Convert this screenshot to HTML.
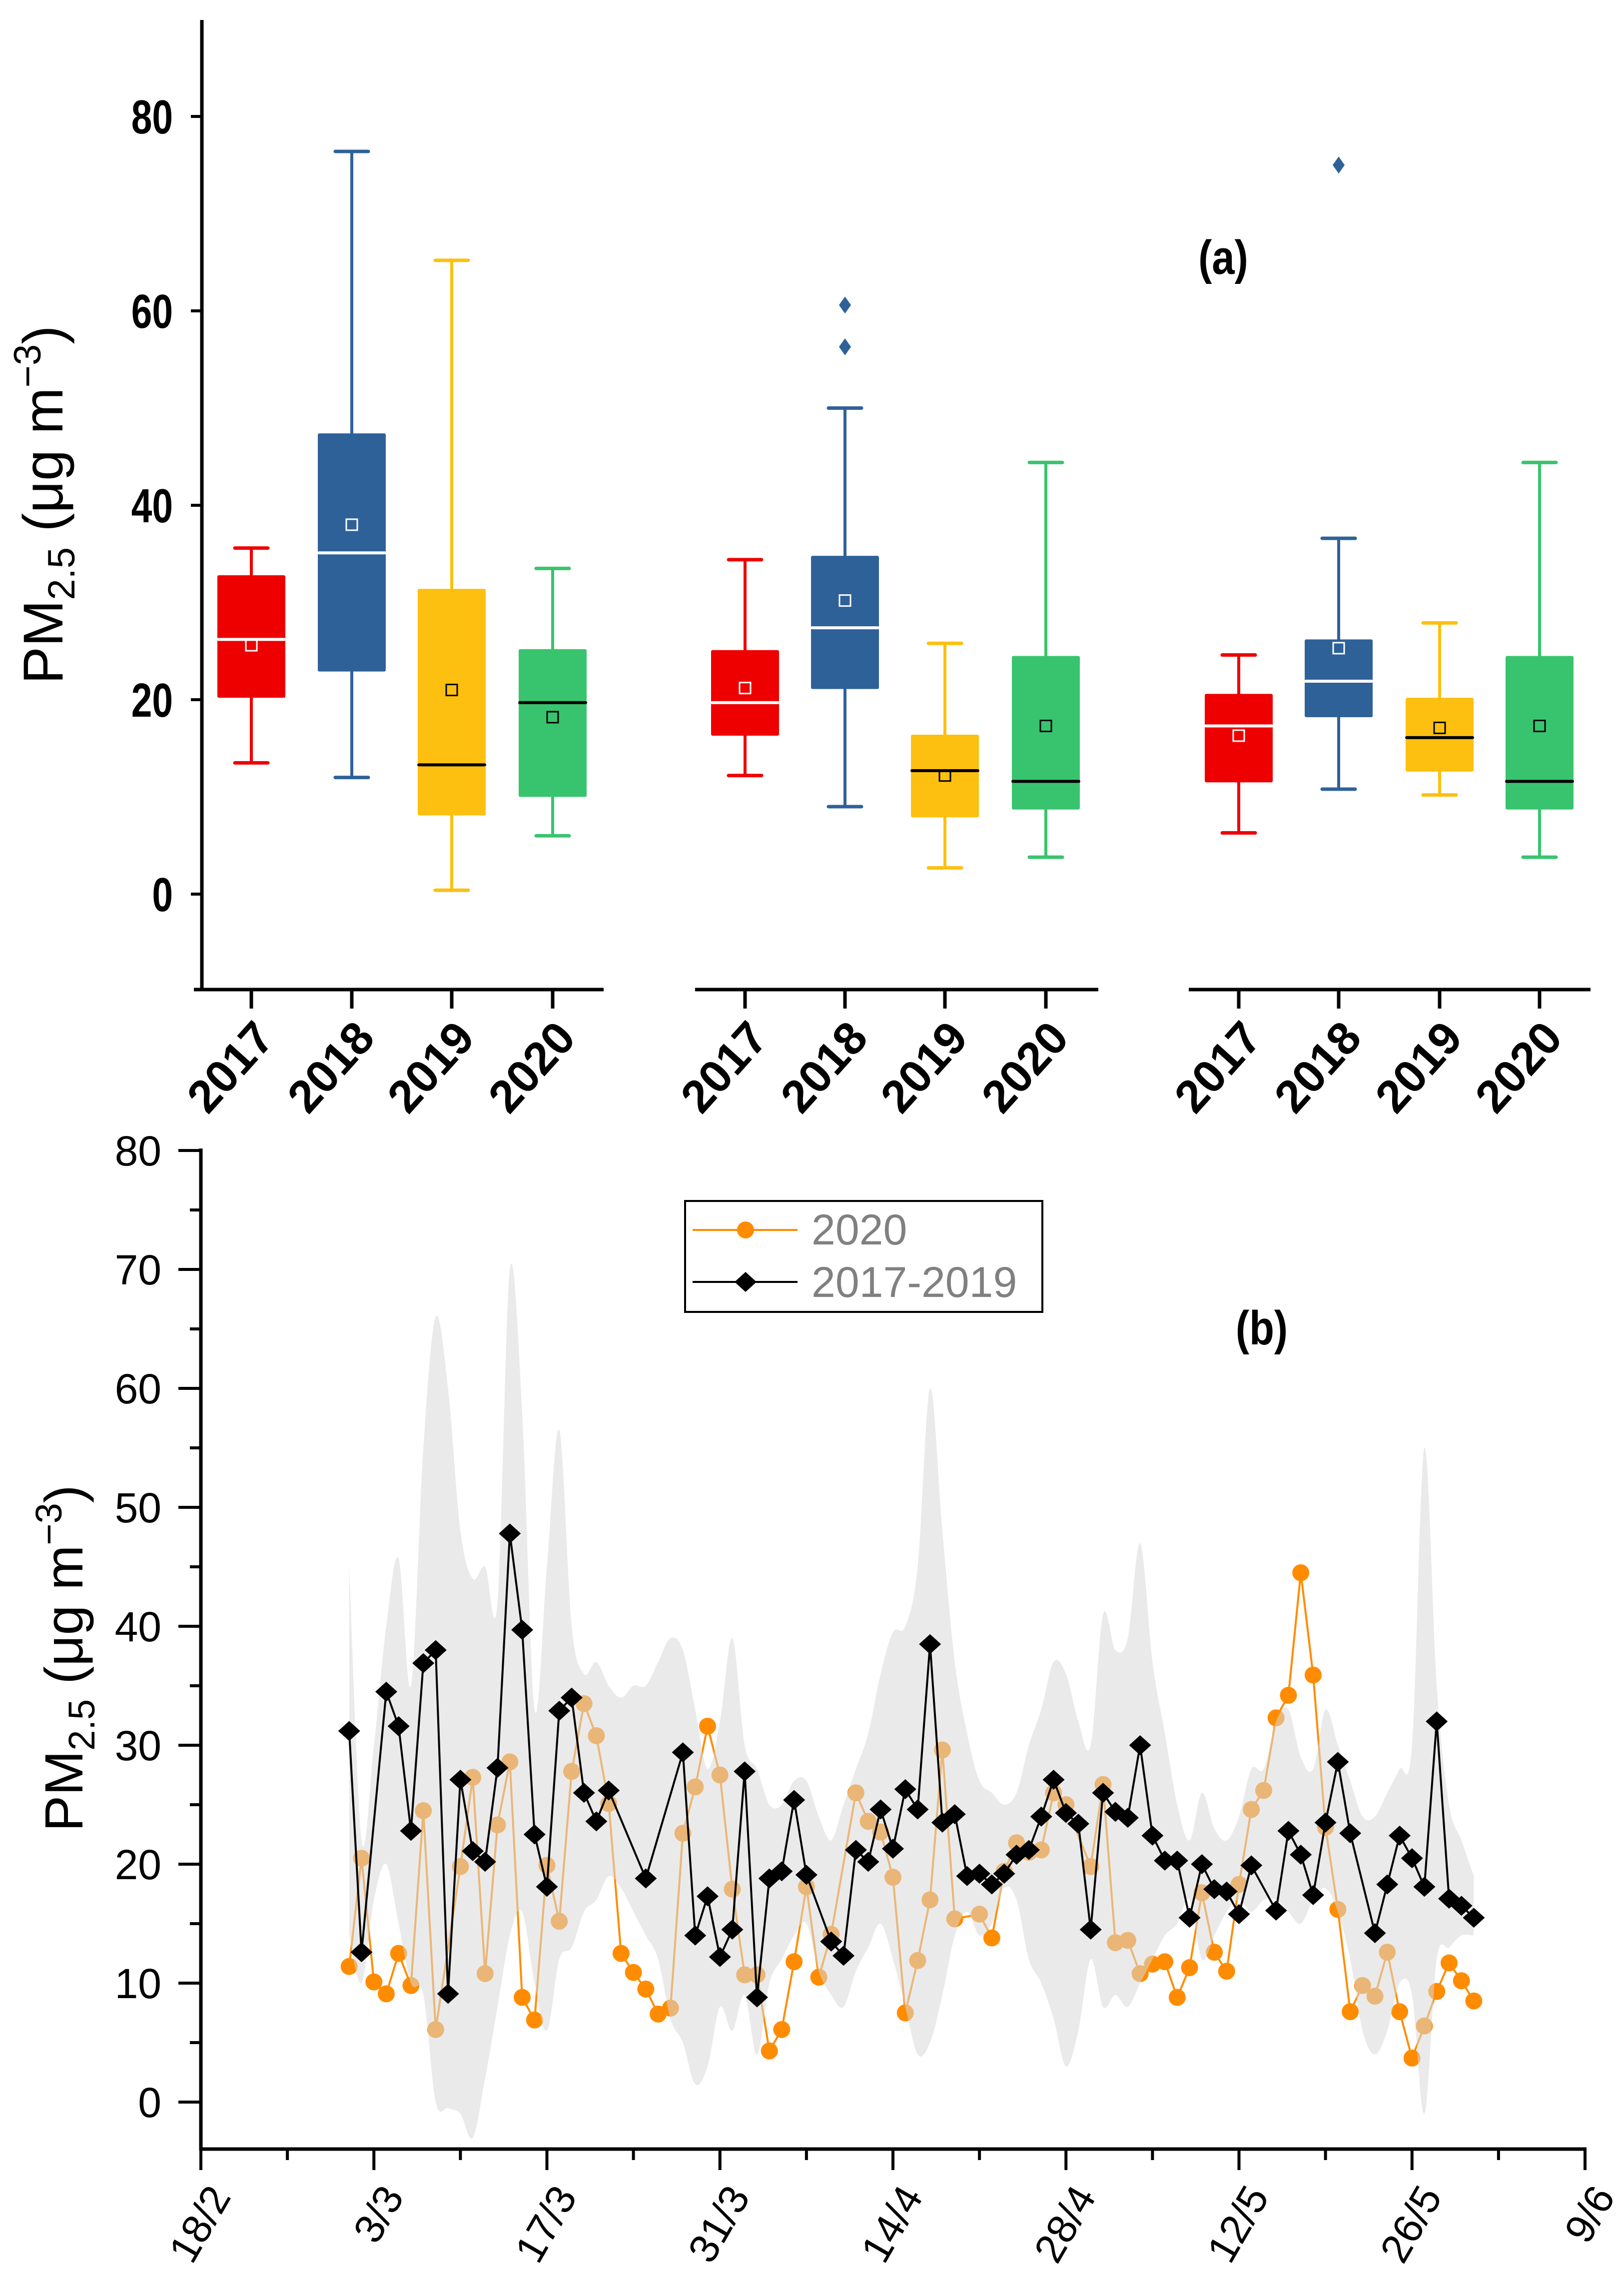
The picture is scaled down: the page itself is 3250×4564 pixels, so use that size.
<!DOCTYPE html>
<html><head><meta charset="utf-8"><style>
html,body{margin:0;padding:0;background:#fff;}
svg{display:block;}
text{font-family:"Liberation Sans",Arial,sans-serif;}
</style></head><body>
<svg id="fig" xmlns="http://www.w3.org/2000/svg" width="3250" height="4564" viewBox="0 0 3250 4564">
<g id="panelA"></g>
<g id="panelB"></g>
</svg>
<script>
// ---------- Panel (a) data ----------
const boxYears = ["2017","2018","2019","2020"];
const boxColors = ["#ee0000","#2f6199","#fdc010","#38c46e"];
const g1Low = [13.5,12.0,0.4,6.0];
const g1Q1 = [20.2,22.9,8.1,10.0];
const g1Med = [26.2,35.1,13.3,19.7];
const g1Mean = [25.6,38.0,21.0,18.2];
const g1Q3 = [32.8,47.4,31.4,25.2];
const g1High = [35.6,76.4,65.2,33.5];
const g2Low = [12.2,9.0,2.7,3.8];
const g2Q1 = [16.3,21.1,7.9,8.7];
const g2Med = [19.7,27.4,12.7,11.6];
const g2Mean = [21.2,30.2,12.2,17.3];
const g2Q3 = [25.1,34.8,16.4,24.5];
const g2High = [34.4,50.0,25.8,44.4];
const g2Outliers = [[],[56.3,60.6],[],[]];
const g3Low = [6.3,10.8,10.2,3.8];
const g3Q1 = [11.5,18.2,12.6,8.7];
const g3Med = [17.3,21.9,16.1,11.6];
const g3Mean = [16.3,25.3,17.1,17.3];
const g3Q3 = [20.6,26.2,20.2,24.5];
const g3High = [24.6,36.6,27.9,44.4];
const g3Outliers = [[],[75.0],[],[]];
const aTicks = [0,20,40,60,80];

// ---------- Panel (b) data ----------
const dateLabels = ["18/2","3/3","17/3","31/3","14/4","28/4","12/5","26/5","9/6"];
const bTicks = [0,10,20,30,40,50,60,70,80];
const days2020 = [12,13,14,15,16,17,18,19,21,22,23,24,25,26,27,28,29,30,31,32,33,34,35,36,37,38,39,40,41,42,43,44,45,46,47,48,49,50,51,53,54,55,56,57,58,59,60,61,63,64,65,66,67,68,69,70,72,73,74,75,76,77,78,79,80,81,82,83,84,85,86,87,88,89,90,91,92,93,94,95,96,97,98,99,100,101,102,103];
const vals2020 = [11.4,20.5,10.1,9.1,12.5,9.8,24.5,6.1,19.8,27.3,10.8,23.3,28.6,8.8,6.9,19.9,15.2,27.8,33.5,30.8,25.1,12.5,10.9,9.5,7.4,7.9,22.6,26.5,31.6,27.5,17.9,10.7,10.7,4.3,6.1,11.8,18.1,10.5,14.1,26.0,23.6,22.7,18.9,7.5,11.9,17.0,29.6,15.4,15.8,13.8,19.4,21.8,21.0,21.2,26.0,25.0,19.8,26.7,13.4,13.6,10.8,11.6,11.8,8.8,11.3,17.6,12.6,11.0,18.3,24.6,26.2,32.3,34.2,44.5,35.9,23.1,16.2,7.6,9.8,8.9,12.6,7.6,3.7,6.4,9.3,11.7,10.2,8.5];
const daysBase = [12,13,15,16,17,18,19,20,21,22,23,24,25,26,27,28,29,30,31,32,33,36,39,40,41,42,43,44,45,46,47,48,49,51,52,53,54,55,56,57,58,59,60,61,62,63,64,65,66,67,68,69,70,71,72,73,74,75,76,77,78,79,80,81,82,83,84,85,87,88,89,90,91,92,93,95,96,97,98,99,100,101,102,103];
const valsBase = [31.2,12.6,34.5,31.6,22.8,36.9,38.0,9.1,27.1,21.1,20.2,28.1,47.8,39.7,22.5,18.1,32.9,34.0,26.0,23.6,26.2,18.8,29.4,14.0,17.3,12.2,14.5,27.8,8.8,18.8,19.4,25.4,19.1,13.5,12.3,21.2,20.2,24.6,21.3,26.3,24.6,38.5,23.5,24.2,19.0,19.2,18.3,19.2,20.8,21.2,24.0,27.1,24.3,23.4,14.5,26.0,24.4,23.9,30.0,22.4,20.3,20.3,15.5,20.0,17.9,17.7,15.8,19.9,16.1,22.8,20.8,17.4,23.5,28.6,22.6,14.2,18.3,22.4,20.5,18.1,32.0,17.1,16.5,15.5];
const bandDays = [12,13,14,15,16,17,18,19,20,21,22,23,24,25,26,27,28,29,30,31,32,33,34,35,36,37,38,39,40,41,42,43,44,45,46,47,48,49,50,51,52,53,54,55,56,57,58,59,60,61,62,63,64,65,66,67,68,69,70,71,72,73,74,75,76,77,78,79,80,81,82,83,84,85,86,87,88,89,90,91,92,93,94,95,96,97,98,99,100,101,102,103];
const bandUpper = [45,22,30,40,45.7,35,55,66,60,48,44,45,42,70,58,33,45,56.5,40,36,37,35,34,35,35,37,39,38,33,28,32,39,30,28,25,25,27,27,24,22,25,28,31,36,39.5,40,45,60,48,37,31,27,26,25,26,30,33,37,36,32,30,41,38,39,47,37,31,25,22,26,23,22,24,28,28,32,33,29,28,33,30,27,24,24,26,28,30,55,35,25,22,19];
const bandLower = [14,10,17,20,15,10,9,0,-0.5,-1,-3,2,8,14,16,10,6,12,13,16,17,19,18,16,14,12,7,5,1.5,3,8,6,9,4,10,12,14,15,11,9,8,11,13,15,12,8,4,5,9,14,16,14,15,18,17,12,10,7,3,6,12,8,9,8,10,12,14,15,17,12,14,16,17,16,17,17,16,15,17,18,16,12,6,4,6,10,9,-1,12,13,14,14];

const NS="http://www.w3.org/2000/svg";
function el(tag, attrs, parent, txt){
  const e=document.createElementNS(NS,tag);
  for(const k in attrs) e.setAttribute(k,attrs[k]);
  if(txt!==undefined) e.textContent=txt;
  parent.appendChild(e); return e;
}

// ===== Panel A =====
const A=document.getElementById('panelA');
const aX0=404, aYtop=40, aYbot=1980;
function ay(v){ return 1789 - v*19.45; }
const groupCenters=[[503,704,904,1106],[1491,1691,1891,2093],[2479,2679,2881,3081]];
const groupAxis=[[388,1208],[1391,2198],[2379,3183]];
const groups=[
 {low:g1Low,q1:g1Q1,med:g1Med,mean:g1Mean,q3:g1Q3,high:g1High,out:[[],[],[],[]]},
 {low:g2Low,q1:g2Q1,med:g2Med,mean:g2Mean,q3:g2Q3,high:g2High,out:g2Outliers},
 {low:g3Low,q1:g3Q1,med:g3Med,mean:g3Mean,q3:g3Q3,high:g3High,out:g3Outliers}];

const ayAxis=el('line',{x1:aX0,y1:aYtop,x2:aX0,y2:aYbot+3,stroke:'#000','stroke-width':7},A);


aTicks.forEach(t=>{
  const tk=el('line',{x1:aX0-22,y1:ay(t),x2:aX0,y2:ay(t),stroke:'#000','stroke-width':6},A);
  
  
  const lb=el('text',{x:0,y:0,'text-anchor':'end','font-size':96,'font-weight':'bold',transform:`translate(${aX0-58},${ay(t)+34}) scale(0.78,1)`},A,String(t));
  
  
});
const aYL=el('text',{x:0,y:0,'font-size':112,'text-anchor':'middle',transform:'translate(125,1010) rotate(-90)'},A);


aYL.innerHTML='PM<tspan font-size="76" dy="24">2.5</tspan><tspan dy="-24"> (μg m</tspan><tspan font-size="76" dy="-44">−3</tspan><tspan dy="44">)</tspan>';

groups.forEach((gd,gi)=>{
  const ax=el('line',{x1:groupAxis[gi][0],y1:aYbot,x2:groupAxis[gi][1],y2:aYbot,stroke:'#000','stroke-width':7},A);
  
  
  boxYears.forEach((yr,i)=>{
    const cx=groupCenters[gi][i], col=boxColors[i], hw=68;
    const g=el('g',{},A);
    
    
    el('line',{x1:cx,y1:ay(gd.high[i]),x2:cx,y2:ay(gd.low[i]),stroke:col,'stroke-width':6},g);
    el('line',{x1:cx-33,y1:ay(gd.high[i]),x2:cx+33,y2:ay(gd.high[i]),stroke:col,'stroke-width':7,'stroke-linecap':'round'},g);
    el('line',{x1:cx-33,y1:ay(gd.low[i]),x2:cx+33,y2:ay(gd.low[i]),stroke:col,'stroke-width':7,'stroke-linecap':'round'},g);
    el('rect',{x:cx-hw,y:ay(gd.q3[i]),width:2*hw,height:ay(gd.q1[i])-ay(gd.q3[i]),fill:col,rx:3},g);
    const mc=(i<2)?'#fff':'#000';
    el('line',{x1:cx-hw+2,y1:ay(gd.med[i]),x2:cx+hw-2,y2:ay(gd.med[i]),stroke:mc,'stroke-width':6,'stroke-linecap':'round'},g);
    el('rect',{x:cx-11,y:ay(gd.mean[i])-11,width:22,height:22,fill:'none',stroke:mc,'stroke-width':3},g);
    gd.out[i].forEach(v=>{
      const y=ay(v);
      el('polygon',{points:`${cx},${y-17} ${cx+12},${y} ${cx},${y+17} ${cx-12},${y}`,fill:col},g);
    });
    const tk=el('line',{x1:cx,y1:aYbot,x2:cx,y2:aYbot+38,stroke:'#000','stroke-width':7},A);
    
    
    const lb=el('text',{x:0,y:0,'text-anchor':'end','font-size':92,'font-weight':'bold',transform:`translate(${cx+50},${2080}) rotate(-48)`},A,yr);
    
    
  });
});
const aTag=el('text',{x:0,y:0,'font-size':96,'font-weight':'bold','text-anchor':'middle',transform:'translate(2448,548) scale(0.85,1)'},A,'(a)');



// ===== Panel B =====
const B=document.getElementById('panelB');
const bX0=402, bX1=3172, bYaxis=4300, bYtop=2298;
function bx(d){ return bX0 + d*(bX1-bX0)/112; }
function by(v){ return 4206 - v*23.8; }

function smoothPath(pts, move){
  let s=(move?'M':'L')+pts[0][0].toFixed(1)+','+pts[0][1].toFixed(1);
  for(let i=0;i<pts.length-1;i++){
    const p0=pts[Math.max(i-1,0)],p1=pts[i],p2=pts[i+1],p3=pts[Math.min(i+2,pts.length-1)];
    const c1x=p1[0]+(p2[0]-p0[0])/6,c1y=p1[1]+(p2[1]-p0[1])/6;
    const c2x=p2[0]-(p3[0]-p1[0])/6,c2y=p2[1]-(p3[1]-p1[1])/6;
    s+='C'+c1x.toFixed(1)+','+c1y.toFixed(1)+' '+c2x.toFixed(1)+','+c2y.toFixed(1)+' '+p2[0].toFixed(1)+','+p2[1].toFixed(1);
  }
  return s;
}
const upPts=bandDays.map((d,i)=>[bx(d),by(bandUpper[i])]);
const loPts=bandDays.map((d,i)=>[bx(d),by(bandLower[i])]).reverse();
const bp=smoothPath(upPts,true)+smoothPath(loPts,false)+'Z';

// 2020 series
const s20=el('g',{},B);


el('polyline',{points:days2020.map((d,i)=>bx(d).toFixed(1)+','+by(vals2020[i]).toFixed(1)).join(' '),fill:'none',stroke:'#ff8c00','stroke-width':4},s20);
days2020.forEach((d,i)=>{
  const c=el('circle',{cx:bx(d),cy:by(vals2020[i]),r:17,fill:'#ff8c00'},s20);
  
  
});
const band=el('path',{d:bp,fill:'#d9d9d9','fill-opacity':0.55},B);



// baseline series
const sb=el('g',{},B);


el('polyline',{points:daysBase.map((d,i)=>bx(d).toFixed(1)+','+by(valsBase[i]).toFixed(1)).join(' '),fill:'none',stroke:'#000','stroke-width':4},sb);
daysBase.forEach((d,i)=>{
  const x=bx(d), y=by(valsBase[i]);
  const p=el('polygon',{points:`${x},${y-20} ${x+22},${y} ${x},${y+20} ${x-22},${y}`,fill:'#000'},sb);
  
  
});

// axes
const byAx=el('line',{x1:bX0,y1:bYtop,x2:bX0,y2:bYaxis+3,stroke:'#000','stroke-width':7},B);


const bxAx=el('line',{x1:bX0-3,y1:bYaxis,x2:bX1+3,y2:bYaxis,stroke:'#000','stroke-width':7},B);


bTicks.forEach(t=>{
  const tk=el('line',{x1:bX0-45,y1:by(t),x2:bX0,y2:by(t),stroke:'#000','stroke-width':6},B);
  
  
  if(t<80){
    const mk=el('line',{x1:bX0-22,y1:by(t+5),x2:bX0,y2:by(t+5),stroke:'#000','stroke-width':6},B);
    
    
  }
  const lb=el('text',{x:323,y:by(t)+30,'text-anchor':'end','font-size':84},B,String(t));
  
  
});
dateLabels.forEach((lab,i)=>{
  const x=bx(i*14);
  const tk=el('line',{x1:x,y1:bYaxis,x2:x,y2:bYaxis+42,stroke:'#000','stroke-width':6},B);
  
  
  if(i<dateLabels.length-1){
    const mx=bx(i*14+7);
    const mk=el('line',{x1:mx,y1:bYaxis,x2:mx,y2:bYaxis+22,stroke:'#000','stroke-width':6},B);
    
    
  }
  const lb=el('text',{x:0,y:0,'text-anchor':'end','font-size':82,transform:`translate(${x+62},${4395}) rotate(-60)`},B,lab);
  
  
});
const bYL=el('text',{x:0,y:0,'font-size':108,'text-anchor':'middle',transform:'translate(165,3318) rotate(-90)'},B);


bYL.innerHTML='PM<tspan font-size="74" dy="24">2.5</tspan><tspan dy="-24"> (μg m</tspan><tspan font-size="74" dy="-42">−3</tspan><tspan dy="42">)</tspan>';

// legend
const lg=el('g',{},B);


el('rect',{x:1371,y:2403,width:715,height:222,fill:'#fff',stroke:'#000','stroke-width':4},lg);
const le1=el('g',{},lg);


el('line',{x1:1386,y1:2461,x2:1596,y2:2461,stroke:'#ff8c00','stroke-width':4},le1);
el('circle',{cx:1492,cy:2461,r:17,fill:'#ff8c00'},le1);
el('text',{x:1624,y:2490,'font-size':86,fill:'#808080'},le1,'2020');
const le2=el('g',{},lg);


el('line',{x1:1386,y1:2565,x2:1596,y2:2565,stroke:'#000','stroke-width':4},le2);
el('polygon',{points:'1492,2545 1514,2565 1492,2585 1470,2565',fill:'#000'},le2);
el('text',{x:1624,y:2595,'font-size':86,fill:'#808080'},le2,'2017-2019');

const bTag=el('text',{x:0,y:0,'font-size':96,'font-weight':'bold','text-anchor':'middle',transform:'translate(2525,2690) scale(0.85,1)'},B,'(b)');


</script>
</body></html>
